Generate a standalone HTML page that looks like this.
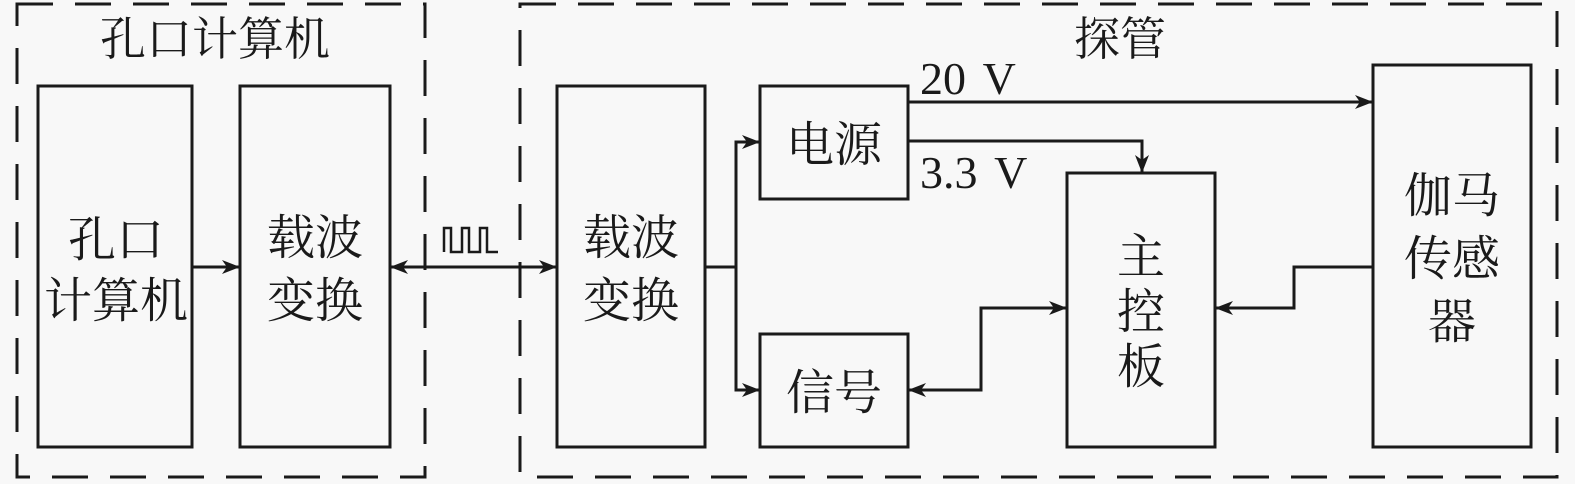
<!DOCTYPE html>
<html><head><meta charset="utf-8"><style>
html,body{margin:0;padding:0;background:#f8f8f8;}
svg{display:block;}
text{font-family:"Liberation Serif","Noto Serif CJK SC","Noto Sans CJK SC",serif;fill:#1a1a1a;}
</style></head><body>
<svg width="1575" height="484" viewBox="0 0 1575 484" xmlns="http://www.w3.org/2000/svg">
<defs>
<marker id="a" markerWidth="18" markerHeight="14" refX="17" refY="7" orient="auto-start-reverse" markerUnits="userSpaceOnUse" viewBox="0 0 18 14">
<path d="M0,0 L18,7 L0,14 L5,7 Z" fill="#1a1a1a"/></marker>
</defs>
<rect width="1575" height="484" fill="#f8f8f8"/>
<g fill="none" stroke="#1a1a1a" stroke-width="3" stroke-dasharray="36,22">
<rect x="17" y="4" width="408" height="473"/>
<rect x="520" y="4" width="1037" height="473"/>
</g>
<g fill="none" stroke="#1a1a1a" stroke-width="3">
<rect x="38" y="86" width="154" height="361"/>
<rect x="240" y="86" width="150" height="361"/>
<rect x="557" y="86" width="148" height="361"/>
<rect x="760" y="86" width="148" height="113"/>
<rect x="760" y="334" width="148" height="113"/>
<rect x="1067" y="173" width="148" height="274"/>
<rect x="1373" y="65" width="158" height="382"/>
</g>
<g fill="none" stroke="#1a1a1a" stroke-width="3">
<line x1="192" y1="267" x2="239" y2="267" marker-end="url(#a)"/>
<line x1="391" y1="267" x2="556" y2="267" marker-start="url(#a)" marker-end="url(#a)" />
<polyline points="705,267 736,267"/>
<polyline points="736,267 736,142 759,142" marker-end="url(#a)"/>
<polyline points="736,267 736,390 759,390" marker-end="url(#a)"/>
<line x1="908" y1="102" x2="1372" y2="102" marker-end="url(#a)"/>
<polyline points="908,141 1142,141 1142,172" marker-end="url(#a)"/>
<polyline points="909,390 981,390 981,308 1066,308" marker-start="url(#a)" marker-end="url(#a)"/>
<polyline points="1373,267 1294,267 1294,308 1216,308" marker-end="url(#a)"/>
<polyline points="444,252 444,228 451,228 451,252 462,252 462,228 469,228 469,252 480,252 480,228 487,228 487,252 498,252" stroke-width="2.5"/>
</g>
<g font-size="46" text-anchor="middle">
<text x="215" y="55">孔口计算机</text>
<text x="1120" y="55">探管</text>
</g>
<g font-size="48" text-anchor="middle">
<text x="116" y="256">孔口</text>
<text x="116" y="317">计算机</text>
<text x="315" y="254">载波</text>
<text x="315" y="317">变换</text>
<text x="631" y="254">载波</text>
<text x="631" y="317">变换</text>
<text x="834" y="161">电源</text>
<text x="834" y="409">信号</text>
<text x="1141" y="273">主</text>
<text x="1141" y="328">控</text>
<text x="1141" y="383">板</text>
<text x="1452" y="212">伽马</text>
<text x="1452" y="275">传感</text>
<text x="1452" y="338">器</text>
</g>
<g font-size="46" word-spacing="6">
<text x="920" y="94">20 V</text>
<text x="920" y="188">3.3 V</text>
</g>
</svg>
</body></html>
